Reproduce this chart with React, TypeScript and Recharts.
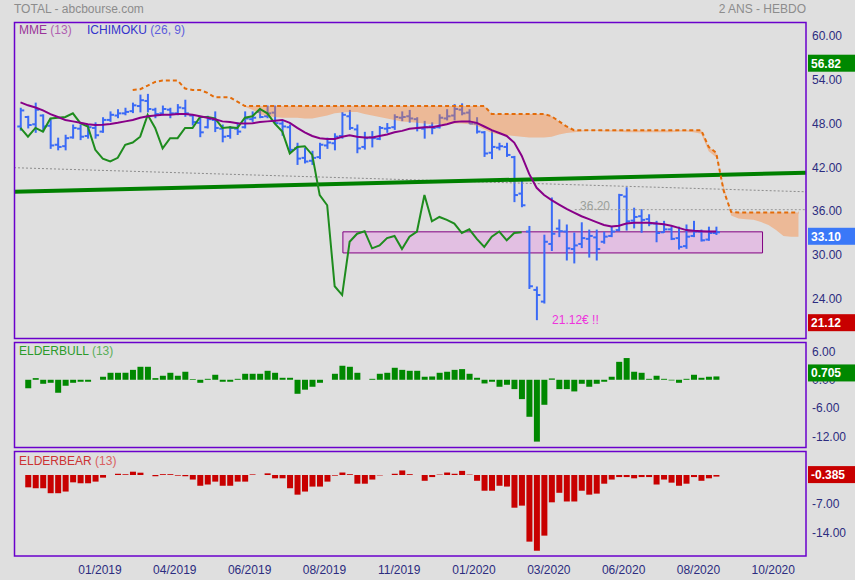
import React from 'react';
import {
  ComposedChart, Bar, Line, Area, XAxis, YAxis,
  ReferenceLine, ReferenceArea, ReferenceDot,
} from 'recharts';

// ---------- DATA (weekly bars, index 0..93) ----------
const highs = [
  50.1, 49.0, 50.8, 49.2, 48.7, 46.0, 46.4, 47.8, 47.8, 47.8,
  48.1, 48.8, 49.6, 49.9, 50.1, 50.8, 51.9, 52.0, 50.1, 50.4,
  50.1, 50.6, 51.2, 49.2, 48.8, 49.0, 49.6, 47.8, 47.6, 48.1,
  49.6, 49.6, 50.1, 50.4, 50.4, 48.3, 47.8, 45.3, 44.6, 44.2,
  45.3, 46.0, 46.6, 49.5, 49.8, 47.8, 46.8, 46.9, 47.6, 48.0,
  49.2, 49.6, 49.8, 48.8, 48.3, 48.1, 49.2, 49.9, 50.6, 50.7,
  49.9, 48.8, 46.9, 46.9, 45.3, 45.3, 43.5, 40.3, 33.9, 25.6,
  32.7, 37.8, 34.8, 34.1, 33.0, 34.4, 33.4, 33.4, 33.1, 33.8,
  38.3, 39.2, 36.4, 36.2, 35.5, 34.6, 34.6, 33.8, 33.8, 34.1,
  34.6, 33.4, 33.8, 33.8,
];
const lows = [
  47.1, 47.4, 46.8, 46.9, 44.6, 44.4, 44.4, 46.0, 45.8, 46.0,
  46.0, 46.8, 48.3, 48.8, 49.2, 49.5, 49.6, 49.6, 48.8, 49.2,
  48.8, 49.2, 49.0, 47.8, 46.2, 47.4, 46.9, 45.5, 46.0, 46.5,
  47.4, 48.3, 48.8, 48.8, 48.0, 46.4, 44.0, 42.4, 42.6, 42.4,
  43.2, 44.6, 44.4, 46.0, 47.2, 44.0, 44.5, 44.8, 45.8, 46.8,
  47.2, 48.4, 48.2, 47.0, 46.0, 46.6, 47.4, 48.5, 48.5, 49.2,
  48.0, 46.7, 43.5, 43.2, 44.4, 43.5, 37.3, 36.6, 25.4, 21.12,
  23.4, 30.6, 32.5, 29.3, 28.9, 31.0, 29.7, 29.3, 31.6, 32.5,
  33.3, 33.4, 33.7, 33.1, 34.0, 31.8, 33.1, 32.1, 30.8, 30.9,
  32.5, 31.9, 32.0, 32.8,
];
const opens = [
  47.6, 48.9, 47.9, 49.1, 47.7, 45.1, 44.9, 46.1, 47.3, 46.3,
  47.4, 46.9, 48.5, 49.1, 49.4, 49.7, 50.4, 51.1, 49.9, 49.4,
  49.9, 49.4, 50.1, 49.1, 48.1, 47.5, 48.5, 47.3, 46.3, 47.3,
  47.5, 48.6, 49.6, 49.0, 49.5, 48.0, 47.5, 44.6, 43.3, 42.9,
  43.4, 45.0, 45.3, 46.3, 49.0, 47.2, 44.8, 46.1, 45.9, 47.3,
  47.5, 48.8, 49.0, 48.6, 47.3, 47.6, 47.5, 48.7, 49.1, 49.9,
  49.5, 48.0, 46.8, 44.0, 44.7, 44.8, 43.4, 38.4, 33.2, 25.2,
  23.6, 31.5, 33.6, 33.2, 30.8, 31.5, 32.2, 32.4, 31.8, 32.6,
  33.4, 38.0, 34.7, 35.3, 34.9, 34.3, 33.1, 33.5, 32.3, 31.2,
  32.6, 33.2, 32.1, 33.0,
];
const closes = [
  49.8, 47.8, 49.9, 47.6, 45.0, 44.8, 46.0, 47.4, 46.2, 47.5,
  46.4, 48.5, 49.2, 49.4, 49.6, 50.5, 51.2, 50.0, 49.3, 50.0,
  49.4, 50.2, 49.4, 48.2, 46.8, 48.6, 47.4, 46.2, 47.4, 46.9,
  48.7, 48.8, 48.9, 49.4, 48.05, 47.6, 44.4, 43.2, 42.8, 43.3,
  45.1, 45.4, 46.2, 49.2, 47.4, 44.6, 46.0, 46.0, 47.4, 47.4,
  48.9, 48.9, 48.7, 47.4, 47.5, 47.4, 48.8, 49.0, 50.0, 49.4,
  48.0, 46.9, 43.9, 44.8, 44.9, 43.7, 38.2, 36.8, 25.7, 24.5,
  31.8, 32.9, 33.25, 30.9, 31.3, 32.3, 32.6, 30.8, 32.5, 33.2,
  38.2, 34.6, 35.2, 34.8, 34.3, 33.0, 33.5, 32.2, 31.1, 32.5,
  33.2, 32.0, 33.0, 33.1,
];
const mme13 = [
  50.9, 50.5, 50.2, 49.8, 49.3, 48.9, 48.5, 48.3, 48.1, 47.9,
  47.8, 47.85, 47.95, 48.1, 48.3, 48.5, 48.8, 49.0, 49.1, 49.2,
  49.2, 49.3, 49.3, 49.2, 49.0, 48.8, 48.6, 48.3, 48.2, 48.05,
  48.0, 48.05, 48.2, 48.3, 48.4, 48.5, 48.1, 47.4, 46.8, 46.3,
  46.0, 45.9, 45.9, 46.2, 46.4, 46.2, 46.1, 46.1, 46.3, 46.5,
  46.8, 47.0, 47.3, 47.4, 47.5, 47.5, 47.7, 47.9, 48.2, 48.3,
  48.3, 48.1, 47.6, 47.1, 46.7, 46.3, 45.4, 43.6, 41.1, 39.2,
  38.2, 37.5, 36.9, 36.3, 35.8, 35.3, 34.9, 34.5, 34.1, 33.9,
  34.0, 34.3, 34.4, 34.4, 34.4, 34.3, 34.2, 34.0, 33.7, 33.4,
  33.3, 33.25, 33.2, 33.2,
];
// Ichimoku leading spans (index 0..104, projected ahead)
const senkouB: (number | null)[] = [
  null, null, null, null, null, null, null, null, null, null,
  null, null, null, null, null, 52.6, 52.7, 53.2, 53.7, 53.9,
  53.9, 53.9, 52.8, 52.6, 52.6, 52.2, 51.6, 51.6, 51.6, 51.0,
  50.4, 50.4, 50.4, 50.4, 50.4, 50.4, 50.4, 50.4, 50.4, 50.4,
  50.4, 50.4, 50.4, 50.4, 50.4, 50.4, 50.4, 50.4, 50.4, 50.4,
  50.4, 50.4, 50.4, 50.4, 50.4, 50.4, 50.4, 50.4, 50.4, 50.4,
  50.4, 50.4, 50.4, 49.3, 49.3, 49.3, 49.3, 49.3, 49.3, 49.3,
  49.3, 49.0, 48.3, 47.6, 47.1, 47.1, 47.1, 47.1, 47.1, 47.1,
  47.1, 47.1, 47.1, 47.1, 47.1, 47.1, 47.1, 47.1, 47.1, 47.1,
  47.1, 47.1, 44.8, 44.0, 38.8, 35.9, 35.8, 35.8, 35.8, 35.8,
  35.8, 35.8, 35.8, 35.8, 35.8,
];
const senkouA: (number | null)[] = [
  null, null, null, null, null, null, null, null, null, null,
  null, null, null, null, null, null, null, null, null, null,
  null, null, null, null, null, null, null, null, null, null,
  50.3, 49.9, 49.3, 49.0, 48.9, 48.8, 48.8, 48.8, 48.7, 48.7,
  48.9, 49.1, 49.4, 49.5, 49.6, 49.6, 49.3, 49.1, 48.9, 48.7,
  48.5, 48.3, 48.2, 48.1, 48.0, 47.9, 47.9, 47.9, 48.0, 48.0,
  47.9, 47.7, 47.2, 46.7, 46.5, 46.4, 46.3, 46.2, 46.1, 46.1,
  46.1, 46.2, 46.5, 46.7, 46.8, 46.9, 47.0, 47.0, 46.9, 46.9,
  46.9, 46.8, 46.8, 46.8, 46.8, 46.8, 46.8, 46.8, 46.9, 46.9,
  46.8, 46.6, 44.2, 43.4, 39.5, 35.4, 35.0, 34.9, 34.8, 34.5,
  34.1, 33.4, 32.6, 32.5, 32.5,
];
const elderBull: (number | null)[] = [
  null, -1.8, 0.35, -0.85, -0.64, -2.75, -1.27, -0.64, -0.42, -0.42,
  0, 0.64, 1.48, 1.48, 1.48, 2.1, 2.75, 2.75, 0.35, 0.85,
  1.48, 0.85, 1.7, 0.14, -0.64, 0.2, 1.06, -0.42, -0.42, 0.2,
  1.27, 1.27, 1.27, 1.9, 1.48, 0.42, 0.42, -2.97, -2.1, -1.48,
  -0.64, 0, 1.27, 2.97, 2.75, 1.48, 0, 0.2, 1.27, 1.48,
  2.54, 2.1, 1.9, 1.9, 0.64, 0.7, 1.48, 1.7, 2.1, 2.26,
  1.27, 0.42, -0.78, -0.42, -1.48, -1.06, -1.98, -4.1, -7.84, -13.1,
  -5.3, 0.28, -1.98, -1.98, -2.47, -0.85, -1.48, -0.85, -0.42, 0.64,
  3.8, 4.6, 1.7, 1.48, 0.2, 0.85, 0.2, -0.14, -0.64, 0.2,
  1.06, 0.42, 0.64, 0.705,
];
const elderBear: (number | null)[] = [
  null, -2.98, -3.2, -3.2, -4.4, -4.4, -4.0, -1.77, -2.0, -2.0,
  -1.6, -0.64, 0, 0.3, 0.2, 0.8, 0.56, 0, -0.3, 0.2,
  0.2, -0.16, -0.3, -1.1, -2.6, -2.3, -1.6, -2.6, -2.6, -1.6,
  -1.6, 0.15, 0, 0.4, -0.8, -0.8, -3.2, -4.75, -4.0, -2.8,
  -2.8, -1.6, -0.16, 0.6, 0.2, -2.1, -2.1, -1.1, -0.1, 0,
  0.3, 1.1, 0.2, 0, -1.4, -0.5, 0.1, 0.6, 0.3, 1.0,
  0.1, -1.4, -3.8, -3.8, -2.6, -2.8, -7.9, -7.4, -16.1, -18.3,
  -14.65, -6.6, -4.3, -6.4, -6.4, -3.8, -4.75, -4.5, -2.1, -1.1,
  -0.5, -0.5, -0.8, -0.5, -0.5, -2.3, -1.1, -1.85, -2.6, -2.1,
  -0.5, -1.4, -0.8, -0.385,
];
const xTickPos = [10.63, 20.63, 30.63, 40.63, 50.63, 60.63, 70.63, 80.63, 90.63, 100.63];
const xTickLabels = ['01/2019', '04/2019', '06/2019', '08/2019', '11/2019', '01/2020', '03/2020', '06/2020', '08/2020', '10/2020'];
const priceTicks = [24, 30, 36, 42, 48, 54, 60];
const bullTicks = [6, 0, -6, -12];
const bearTicks = [-7, -14];

// annotations (bar-index / price units)
const X0 = -0.869;
const X1 = 105.01;
const trendLine = [{ x: X0, y: 38.65 }, { x: X1, y: 41.26 }];
const grayLine = [{ x: X0, y: 41.95 }, { x: X1, y: 38.65 }];
const level3620 = [{ x: 74.1, y: 36.2 }, { x: X1, y: 36.2 }];
const zone = { x1: 43.1, x2: 99.2, y1: 30.27, y2: 33.16 };
const CHIKOU_SHIFT = 26;

const PRICE_DOMAIN: [number, number] = [18.61, 61.92];
const BULL_DOMAIN: [number, number] = [-14.24, 8];
const BEAR_DOMAIN: [number, number] = [-19.57, 5.8];

const rows = Array.from({ length: 105 }, (_, i) => {
  const has = i < closes.length;
  const a = senkouA[i];
  const b = senkouB[i];
  return {
    i,
    hl: has ? [lows[i], highs[i]] : null,
    o: has ? opens[i] : null,
    h: has ? highs[i] : null,
    l: has ? lows[i] : null,
    c: has ? closes[i] : null,
    mme: has ? mme13[i] : null,
    chikou: i + CHIKOU_SHIFT < closes.length ? closes[i + CHIKOU_SHIFT] : null,
    spanB: b,
    cloud: a != null && b != null ? [a, b] : null,
    bull: has ? elderBull[i] : null,
    bear: has ? elderBear[i] : null,
  };
});

const FONT = 'Arial, "Liberation Sans", sans-serif';
const BG = '#dfdfdf';
const AXIS_TXT = '#2c2c80';
const BORDER = '#6a00cc';

const OhlcShape = (props: any) => {
  const { x, y, width, height, payload } = props;
  if (!payload || payload.h == null) return null;
  const cx = x + width / 2;
  const top = Math.min(y, y + height);
  const bot = Math.max(y, y + height);
  const span = payload.h - payload.l;
  const yv = (v: number) => (span > 0 ? top + ((payload.h - v) / span) * (bot - top) : top);
  return (
    <g stroke="#3a6af6" strokeWidth={2}>
      <line x1={cx} x2={cx} y1={top - 0.5} y2={bot + 0.5} />
      <line x1={cx - 3.5} x2={cx} y1={yv(payload.o)} y2={yv(payload.o)} />
      <line x1={cx} x2={cx + 3.5} y1={yv(payload.c)} y2={yv(payload.c)} />
    </g>
  );
};

const Badge = (props: any) => {
  const { viewBox, text, bg, dy = 0 } = props;
  if (!viewBox) return null;
  const x = viewBox.x + viewBox.width + 2;
  const cy = viewBox.y + dy;
  return (
    <g>
      <rect x={x} y={cy - 8.5} width={47} height={17} fill={bg} />
      <text x={x + 3} y={cy} dy="0.36em" fill="#ffffff" fontSize={12} fontWeight="bold" fontFamily={FONT}>
        {text}
      </text>
    </g>
  );
};

const textShape = (label: string, color: string, dy: number) => (p: any) => (
  <text x={p.cx} y={p.cy + dy} dy="0.36em" fill={color} fontSize={12} fontFamily={FONT} textAnchor="start">
    {label}
  </text>
);

const yTick = { fill: AXIS_TXT, fontSize: 12, fontFamily: FONT };

// transparent layer with the same geometry, drawing the value badge above the axis texts
const BadgeLayer = (props: { top: number; height: number; margin: any; domain: [number, number]; value: number; text: string; bg: string; dy: number; xHeight?: number }) => (
  <div style={{ position: 'absolute', left: 0, top: props.top }}>
    <ComposedChart width={855} height={props.height} data={rows} margin={props.margin}>
      <XAxis type="number" dataKey="i" domain={[X0, X1]} allowDataOverflow hide={!props.xHeight} height={props.xHeight || 0} tick={false} axisLine={false} tickLine={false} />
      <YAxis orientation="right" type="number" width={49} domain={props.domain} allowDataOverflow tick={false} tickLine={false} axisLine={false} />
      <ReferenceLine y={props.value} stroke="none" label={<Badge text={props.text} bg={props.bg} dy={props.dy} />} />
    </ComposedChart>
  </div>
);

export default function App() {
  return (
    <div style={{ position: 'absolute', left: 0, top: 0, width: 855, height: 580, background: BG, overflow: 'hidden' }}>
      {/* price panel */}
      <div style={{ position: 'absolute', left: 0, top: 0 }}>
        <ComposedChart width={855} height={340} data={rows} margin={{ top: 22, right: 0, bottom: 2, left: 14 }}>
          <XAxis type="number" dataKey="i" domain={[X0, X1]} allowDataOverflow hide />
          <YAxis
            orientation="right" type="number" width={49} domain={PRICE_DOMAIN} allowDataOverflow
            ticks={priceTicks} interval={0} tickFormatter={(v: number) => v.toFixed(2)}
            tickLine={false} axisLine={false} tickSize={4} tickMargin={2} tick={yTick}
          />
          <ReferenceArea {...zone} fill="#e2bfe2" fillOpacity={1} stroke="#800080" strokeWidth={1} ifOverflow="hidden" />
          <ReferenceLine segment={grayLine} stroke="#8c8c8c" strokeWidth={1} strokeDasharray="2 2" ifOverflow="hidden" />
          <ReferenceLine segment={level3620} stroke="#9a9a9a" strokeWidth={1} strokeDasharray="2 2" ifOverflow="hidden" />
          <ReferenceLine segment={trendLine} stroke="#008000" strokeWidth={4} ifOverflow="hidden" />
          <Bar dataKey="hl" barSize={6} shape={OhlcShape} isAnimationActive={false} />
          <Line dataKey="chikou" type="linear" stroke="#1e8c1e" strokeWidth={2} dot={false} isAnimationActive={false} />
          <Area dataKey="cloud" type="linear" stroke="none" fill="#ff7f2a" fillOpacity={0.4} isAnimationActive={false} zIndex={350} />
          <Line dataKey="mme" type="linear" stroke="#880088" strokeWidth={2} dot={false} isAnimationActive={false} />
          <Line dataKey="spanB" type="linear" stroke="#e36c0a" strokeWidth={2} strokeDasharray="4 3" dot={false} isAnimationActive={false} />
          <ReferenceDot x={74.8} y={36.2} r={1} shape={textShape('36.20', '#9aa09a', -4)} />
          <ReferenceDot x={71.06} y={21.12} r={1} shape={textShape('21.12€ !!', '#ee33dd', 0)} />
          <ReferenceLine y={56.82} stroke="none" label={<Badge text="56.82" bg="#008800" dy={4} />} />
          <ReferenceLine y={33.1} stroke="none" label={<Badge text="33.10" bg="#3a78f8" dy={4} />} />
          <ReferenceLine y={21.12} stroke="none" label={<Badge text="21.12" bg="#c80000" dy={3} />} />
        </ComposedChart>
      </div>

      {/* elder bull panel */}
      <div style={{ position: 'absolute', left: 0, top: 340 }}>
        <ComposedChart width={855} height={110} data={rows} margin={{ top: 2, right: 0, bottom: 3, left: 14 }}>
          <XAxis type="number" dataKey="i" domain={[X0, X1]} allowDataOverflow hide />
          <YAxis
            orientation="right" type="number" width={49} domain={BULL_DOMAIN} allowDataOverflow
            ticks={bullTicks} interval={0} tickFormatter={(v: number) => v.toFixed(2)}
            tickLine={false} axisLine={false} tickSize={4} tickMargin={2} tick={yTick}
          />
          <Bar dataKey="bull" barSize={6} fill="#008800" isAnimationActive={false} />
        </ComposedChart>
      </div>
      <BadgeLayer top={340} height={110} margin={{ top: 2, right: 0, bottom: 3, left: 14 }} domain={BULL_DOMAIN} value={0.705} text="0.705" bg="#008800" dy={-3.5} />

      {/* elder bear panel */}
      <div style={{ position: 'absolute', left: 0, top: 449 }}>
        <ComposedChart width={855} height={131} data={rows} margin={{ top: 2, right: 0, bottom: 0, left: 14 }}>
          <XAxis
            type="number" dataKey="i" domain={[X0, X1]} allowDataOverflow height={24}
            ticks={xTickPos} interval={0}
            tickFormatter={(v: number) => xTickLabels[xTickPos.indexOf(v)] ?? ''}
            tickLine={false} axisLine={false} tickSize={7} tickMargin={2}
            tick={{ fill: AXIS_TXT, fontSize: 12, fontFamily: FONT }}
          />
          <YAxis
            orientation="right" type="number" width={49} domain={BEAR_DOMAIN} allowDataOverflow
            ticks={bearTicks} interval={0} tickFormatter={(v: number) => v.toFixed(2)}
            tickLine={false} axisLine={false} tickSize={4} tickMargin={2} tick={yTick}
          />
          <Bar dataKey="bear" barSize={6} fill="#c80000" isAnimationActive={false} />
        </ComposedChart>
      </div>
      <BadgeLayer top={449} height={131} margin={{ top: 2, right: 0, bottom: 0, left: 14 }} xHeight={24} domain={BEAR_DOMAIN} value={-0.385} text="-0.385" bg="#c80000" dy={-2} />

      {/* frames and captions */}
      <svg width={855} height={580} style={{ position: 'absolute', left: 0, top: 0, pointerEvents: 'none' }}>
        <rect x={14.5} y={22.5} width={791.5} height={316} fill="none" stroke={BORDER} strokeWidth={1.5} />
        <rect x={14.5} y={342.5} width={791.5} height={105} fill="none" stroke={BORDER} strokeWidth={1.5} />
        <rect x={14.5} y={451.5} width={791.5} height={104.5} fill="none" stroke={BORDER} strokeWidth={1.5} />
        <g fontFamily={FONT} fontSize={12}>
          <text x={14} y={12.8} fill="#8c8c8c">TOTAL - abcbourse.com</text>
          <text x={806} y={12.8} fill="#8c8c8c" textAnchor="end">2 ANS - HEBDO</text>
          <text x={19} y={34.3} fill="#993399">MME<tspan fill="#b060b0"> (13)</tspan></text>
          <text x={87} y={34.3} fill="#3333cc">ICHIMOKU<tspan fill="#5c5cdc"> (26, 9)</tspan></text>
          <text x={19} y={354.8} fill="#2a9a2a">ELDERBULL<tspan fill="#5aae5a"> (13)</tspan></text>
          <text x={19} y={464.8} fill="#cc3333">ELDERBEAR<tspan fill="#d96060"> (13)</tspan></text>
        </g>
      </svg>
    </div>
  );
}
